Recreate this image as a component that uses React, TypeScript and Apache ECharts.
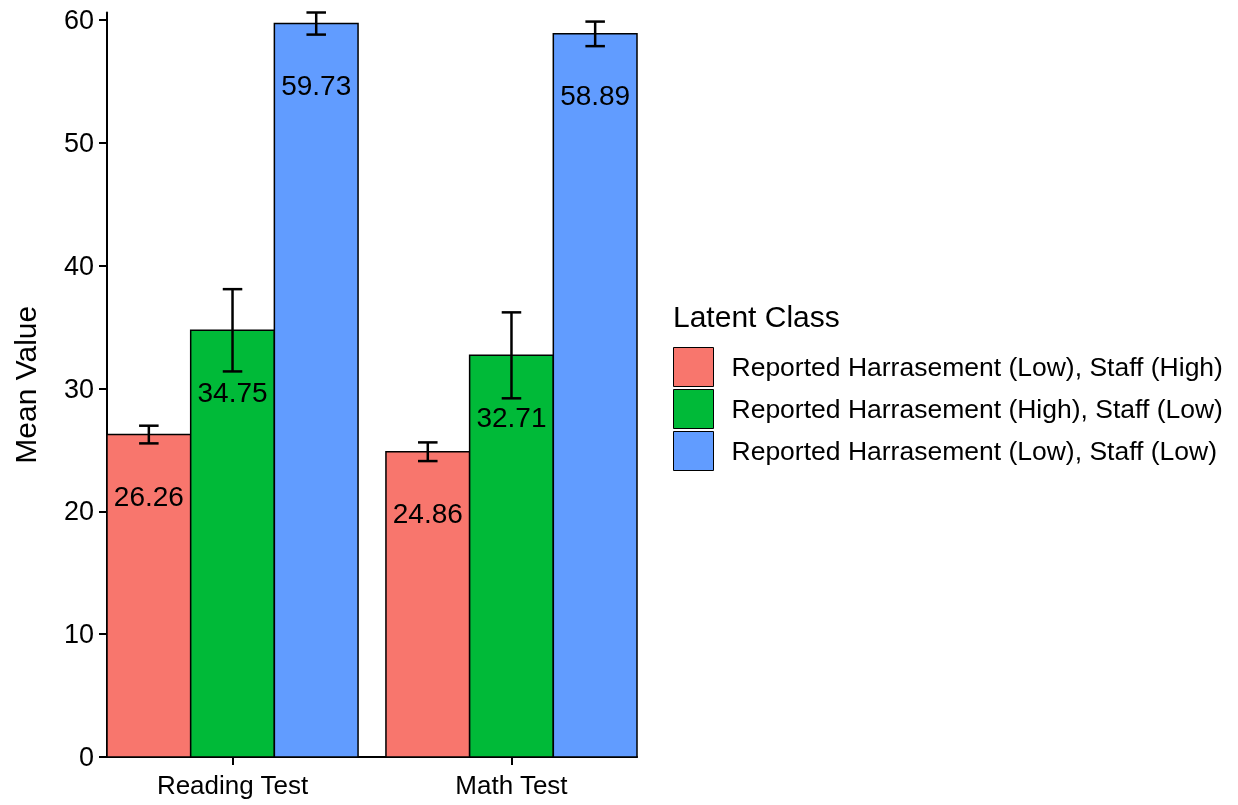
import React, { useEffect, useRef } from 'react';
import * as echarts from 'echarts';

const categories = ['Reading Test', 'Math Test'];
const classNames = [
  'Reported Harrasement (Low), Staff (High)',
  'Reported Harrasement (High), Staff (Low)',
  'Reported Harrasement (Low), Staff (Low)',
];
const classColors = ['#F8766D', '#00BA38', '#619CFF'];
const meanLowHigh = [26.26, 24.86];
const meanHighLow = [34.75, 32.71];
const meanLowLow = [59.73, 58.89];
const errLowHigh = [0.72, 0.76];
const errHighLow = [3.35, 3.5];
const errLowLow = [0.9, 1.0];
const yTicks = [0, 10, 20, 30, 40, 50, 60];
const xTicks = [1, 2];

const FONT = '"Liberation Sans", Arial, Helvetica, sans-serif';

const means = [meanLowHigh, meanHighLow, meanLowLow];
const errs = [errLowHigh, errHighLow, errLowLow];

export default function App() {
  const ref = useRef<HTMLDivElement>(null);
  useEffect(() => {
    if (!ref.current) return;
    const chart = echarts.init(ref.current, null, { renderer: 'svg' });
    const yMax = Math.max(...means.flatMap((m, i) => m.map((v, j) => v + errs[i][j])));
    const series = classNames.map((name, si) => ({
      type: 'custom',
      name,
      itemStyle: { color: classColors[si], borderColor: '#000', borderWidth: 1 },
      data: categories.map((_, ci) => [ci + 1, means[si][ci], errs[si][ci]]),
      renderItem: (params: any, api: any) => {
        const x = api.value(0);
        const v = api.value(1);
        const e = api.value(2);
        const band = api.size([1, 0])[0];
        const w = band * 0.3;
        const cx = api.coord([x, 0])[0] + (si - 1) * w;
        const base = api.coord([x, 0])[1];
        const top = api.coord([x, v])[1];
        const hi = api.coord([x, v + e])[1];
        const lo = api.coord([x, v - e])[1];
        const cap = band * 0.035;
        return {
          type: 'group',
          children: [
            {
              type: 'rect',
              shape: { x: cx - w / 2, y: top, width: w, height: base - top },
              style: { fill: classColors[si], stroke: '#000', lineWidth: 1.5 },
            },
            {
              type: 'line',
              shape: { x1: cx, y1: hi, x2: cx, y2: lo },
              style: { stroke: '#000', lineWidth: 2.5 },
            },
            {
              type: 'line',
              shape: { x1: cx - cap, y1: hi, x2: cx + cap, y2: hi },
              style: { stroke: '#000', lineWidth: 2.5 },
            },
            {
              type: 'line',
              shape: { x1: cx - cap, y1: lo, x2: cx + cap, y2: lo },
              style: { stroke: '#000', lineWidth: 2.5 },
            },
            {
              type: 'text',
              x: cx,
              y: top + 62,
              style: {
                text: v.toFixed(2),
                fontSize: 28,
                fontFamily: FONT,
                fill: '#000',
                align: 'center',
                verticalAlign: 'middle',
              },
            },
          ],
        };
      },
    }));

    chart.setOption({
      animation: false,
      grid: { left: 107, top: 12.5, width: 530, bottom: 48 },
      xAxis: {
        type: 'value',
        min: 0.55,
        max: 2.45,
        splitLine: { show: false },
        axisLine: { show: true, lineStyle: { color: '#000', width: 2 } },
        axisTick: { show: true, customValues: xTicks, length: 8, lineStyle: { color: '#000', width: 2 } },
        axisLabel: {
          customValues: xTicks,
          formatter: (val: number) => categories[Math.round(val) - 1] ?? '',
          fontSize: 26,
          fontFamily: FONT,
          color: '#000',
          margin: 15,
        },
      },
      yAxis: {
        type: 'value',
        min: 0,
        max: yMax,
        name: 'Mean Value',
        nameLocation: 'middle',
        nameGap: 67,
        nameTextStyle: { fontSize: 30, fontFamily: FONT, color: '#000' },
        splitLine: { show: false },
        axisLine: { show: true, lineStyle: { color: '#000', width: 2 } },
        axisTick: { show: true, customValues: yTicks, length: 8, lineStyle: { color: '#000', width: 2 } },
        axisLabel: {
          customValues: yTicks,
          fontSize: 27,
          fontFamily: FONT,
          color: '#000',
          margin: 13,
        },
      },
      legend: {
        orient: 'vertical',
        left: 673,
        top: 347,
        padding: 0,
        icon: 'rect',
        itemWidth: 40,
        itemHeight: 39,
        itemGap: 2,
        itemStyle: { borderColor: '#000', borderWidth: 1 },
        textStyle: { fontSize: 26.5, fontFamily: FONT, color: '#000', padding: [0, 0, 0, 13] },
        data: classNames,
      },
      graphic: [
        {
          type: 'text',
          left: 673,
          top: 301,
          style: { text: 'Latent Class', fontSize: 30, fontFamily: FONT, fill: '#000' },
        },
      ],
      series,
    });
    return () => chart.dispose();
  }, []);
  return <div ref={ref} style={{ position: 'fixed', left: 0, top: 0, width: 1238, height: 805 }} />;
}
